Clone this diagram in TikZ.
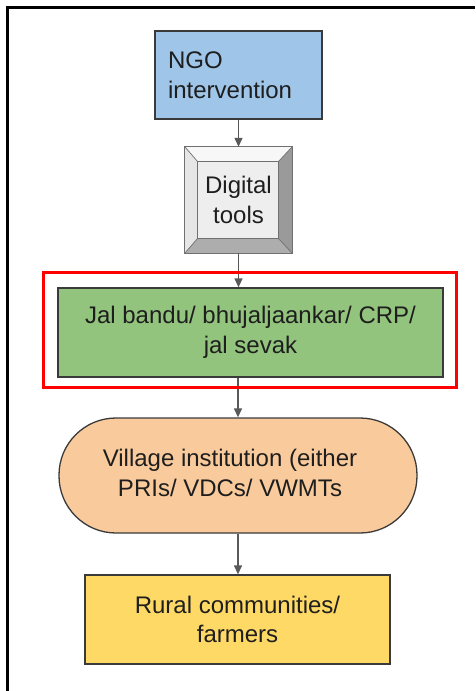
\documentclass[tikz,border=0pt]{standalone}
\usepackage{fontspec}
\setmainfont{Liberation Sans}
\usetikzlibrary{arrows.meta,backgrounds,calc}
\definecolor{ngoblue}{HTML}{9FC5E8}
\definecolor{jalgreen}{HTML}{93C47D}
\definecolor{peach}{HTML}{F9CB9C}
\definecolor{yel}{HTML}{FFD966}
\definecolor{boxline}{HTML}{3A3A3A}
\definecolor{arrowgray}{HTML}{595959}
\definecolor{txt}{HTML}{1E1E1E}
\definecolor{bevtop}{HTML}{F7F7F7}
\definecolor{bevleft}{HTML}{E6E6E6}
\definecolor{bevright}{HTML}{9A9A9A}
\definecolor{bevbottom}{HTML}{ADADAD}
\definecolor{bevface}{HTML}{EEEEEE}
\definecolor{bevline}{HTML}{707070}
\begin{document}
\begin{tikzpicture}[x=1pt,y=-1pt,
  txtfont/.style={font=\fontsize{24}{29.5}\selectfont,text=txt},
  box/.style={draw=boxline,line width=1.3pt,txtfont,inner sep=0pt},
  conn/.style={draw=arrowgray,line width=1.3pt,-{Triangle[length=9pt,width=8pt]}}]
\useasboundingbox (0,0) rectangle (475,691);
\draw[line width=2.2pt] (7.5,691) -- (7.5,7.5) -- (475,7.5);

\node[box,fill=ngoblue,minimum width=167pt,minimum height=88pt,text width=141pt,inner xsep=13pt,align=left] (ngo) at (238.5,75) {NGO\\intervention};

\node[txtfont,minimum width=107pt,minimum height=106pt,inner sep=0pt,align=center] (dig) at (238.5,200) {Digital\\tools};
\begin{scope}[on background layer]
  \coordinate (inw) at ($(dig.north west)+(13,15)$);
  \coordinate (ine) at ($(dig.north east)+(-14,15)$);
  \coordinate (isw) at ($(dig.south west)+(13,-15)$);
  \coordinate (ise) at ($(dig.south east)+(-14,-15)$);
  \fill[bevtop] (dig.north west) -- (dig.north east) -- (ine) -- (inw) -- cycle;
  \fill[bevleft] (dig.north west) -- (inw) -- (isw) -- (dig.south west) -- cycle;
  \fill[bevright] (dig.north east) -- (dig.south east) -- (ise) -- (ine) -- cycle;
  \fill[bevbottom] (dig.south west) -- (isw) -- (ise) -- (dig.south east) -- cycle;
  \fill[bevface] (inw) rectangle (ise);
  \draw[bevline,line width=0.9pt] (dig.north west) rectangle (dig.south east);
  \draw[bevline,line width=0.9pt] (inw) rectangle (ise);
  \draw[bevline,line width=0.7pt] (dig.north west) -- (inw) (dig.north east) -- (ine)
        (dig.south west) -- (isw) (dig.south east) -- (ise);
\end{scope}

\node[box,fill=jalgreen,minimum width=385pt,minimum height=89pt,align=center] (jal) at (250.5,332.5) {Jal bandu/ bhujaljaankar/ CRP/\\jal sevak};

\node[box,fill=peach,rounded corners=57pt,minimum width=358pt,minimum height=115pt,
  label={[txtfont,align=center,xshift=-8pt,yshift=2.5pt]center:Village institution (either\\PRIs/ VDCs/ VWMTs}] (vil) at (238,475.5) {};

\node[box,fill=yel,minimum width=305pt,minimum height=89pt,align=center] (rur) at (237.5,619.5) {Rural communities/\\farmers};

\draw[conn] (ngo.south) -- (dig.north);
\draw[conn] (dig.south) -- (dig.south |- jal.north);
\draw[conn] (jal.south -| vil.north) -- (vil.north);
\draw[conn] (vil.south) -- (vil.south |- rur.north);

\node[draw=red,line width=3pt,minimum width=413pt,minimum height=115pt,inner sep=0pt] (hl) at (249.5,329.5) {};
\end{tikzpicture}
\end{document}
